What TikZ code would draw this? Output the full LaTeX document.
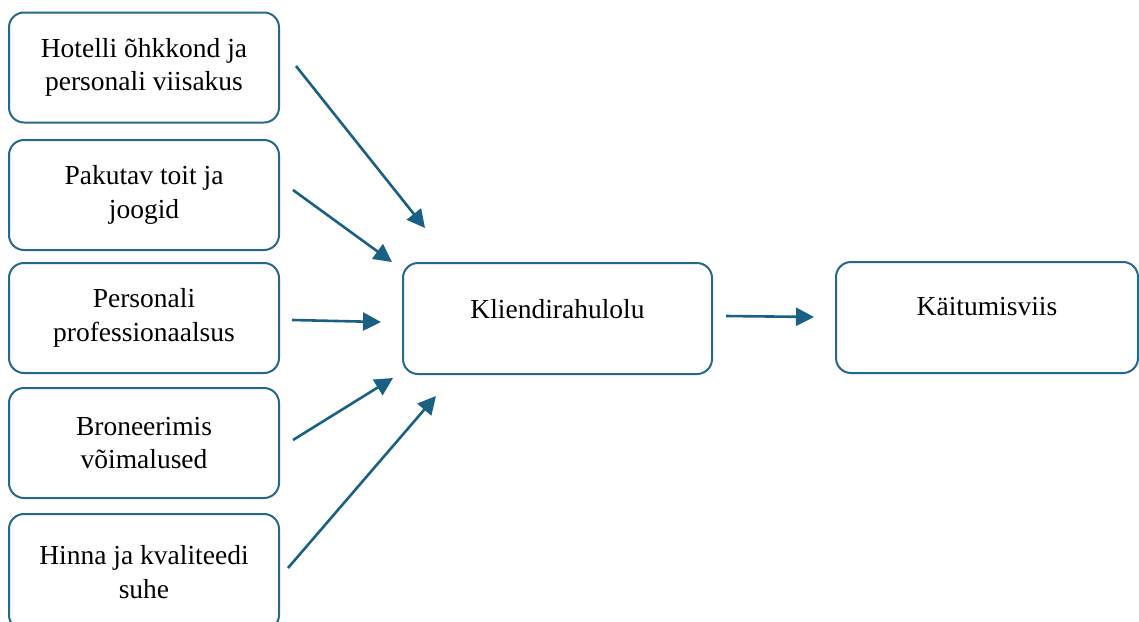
\documentclass[tikz,border=0pt]{standalone}
\usepackage{fontspec}
\setmainfont{Liberation Serif}
\usetikzlibrary{arrows.meta}
\definecolor{boxblue}{RGB}{36,104,140}
\definecolor{arrblue}{RGB}{26,96,133}
\begin{document}
\begin{tikzpicture}[x=1pt,y=-1pt,
  box/.style={draw=boxblue,line width=2pt,rounded corners=15pt,fill=white,
    align=center,font=\fontsize{27.5}{33.5}\selectfont,inner sep=0pt},
  lbox/.style={box,minimum width=270pt,minimum height=110pt},
  conn/.style={draw=arrblue,line width=2.6pt,-{Triangle[length=18pt,width=18pt]}}]
\useasboundingbox (0,0) rectangle (1139,621);
\clip (0,0) rectangle (1139,621);
\node[lbox] (b1) at (144,67.5) {Hotelli õhkkond ja\\personali viisakus};
\node[lbox] (b2) at (144,195) {Pakutav toit ja\\joogid};
\node[lbox] (b3) at (144,318) {Personali\\professionaalsus};
\node[lbox] (b4) at (144,443) {Broneerimis\\võimalused};
\node[box,minimum width=270pt,minimum height=116pt] (b5) at (144,572) {Hinna ja kvaliteedi\\suhe};
\node[box,minimum width=309pt,minimum height=111pt,text depth=20pt] (k) at (557.5,318.5) {Kliendirahulolu};
\node[box,minimum width=302pt,minimum height=111pt,text depth=22pt] (t) at (987,317.5) {Käitumisviis};
\coordinate (s1) at (296,66);  \coordinate (e1) at (425,228);
\coordinate (s2) at (293,190); \coordinate (e2) at (392,262);
\coordinate (s3) at (292,320); \coordinate (e3) at (381,322);
\coordinate (s4) at (293,440); \coordinate (e4) at (393,378);
\coordinate (s5) at (288,568); \coordinate (e5) at (436,396);
\coordinate (s6) at (726,316); \coordinate (e6) at (814,317);
\draw[conn] (s1) -- (e1);
\draw[conn] (s2) -- (e2);
\draw[conn] (s3) -- (e3);
\draw[conn] (s4) -- (e4);
\draw[conn] (s5) -- (e5);
\draw[conn] (s6) -- (e6);
\end{tikzpicture}
\end{document}
